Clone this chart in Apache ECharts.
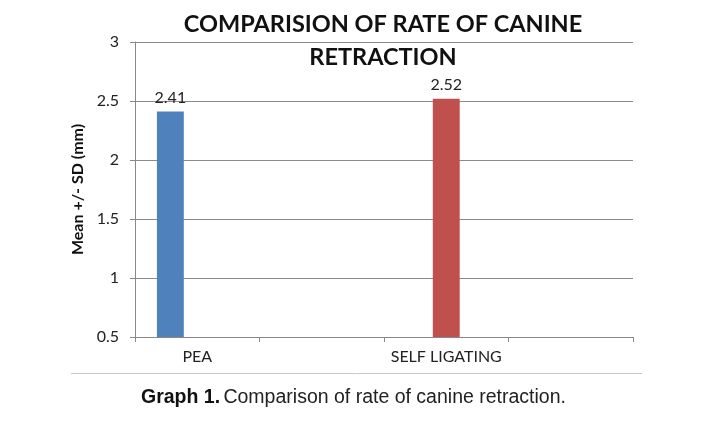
<!DOCTYPE html>
<html>
<head>
<meta charset="utf-8">
<script src="https://cdn.jsdelivr.net/npm/echarts@6/dist/echarts.min.js"></script>
<style>html,body{margin:0;padding:0;background:#fff}#c{width:727px;height:421px}</style>
</head>
<body>
<div id="c"></div>
<script>
var categories = ['PEA', '', 'SELF LIGATING', ''];
var peaValues = [2.41, '-', '-', '-'];
var selfLigatingValues = ['-', '-', 2.52, '-'];
var emptySeries = ['-', '-', '-', '-'];
var yTicks = { min: 0.5, max: 3, interval: 0.5 };

var chart = echarts.init(document.getElementById('c'), null, { renderer: 'canvas' });
var labelStyle = { show: true, position: 'top', distance: 6, color: '#222', fontFamily: 'Lato', fontSize: 16 };
chart.setOption({
  animation: false,
  title: {
    text: 'COMPARISION OF RATE OF CANINE\nRETRACTION',
    left: 378, top: 3, textAlign: 'center',
    textStyle: { fontFamily: 'Lato', fontWeight: 'bold', fontSize: 23.5, lineHeight: 33, color: '#111' }
  },
  grid: { left: 135, right: 94, top: 42, bottom: 84 },
  xAxis: {
    type: 'category', data: categories,
    axisLine: { lineStyle: { color: '#888', width: 1 } },
    axisTick: { show: true, length: 5, lineStyle: { color: '#888' } },
    axisLabel: { color: '#222', fontFamily: 'Lato', fontSize: 16, margin: 12, interval: 0 }
  },
  yAxis: {
    type: 'value', min: yTicks.min, max: yTicks.max, interval: yTicks.interval,
    name: 'Mean +/- SD (mm)', nameLocation: 'middle', nameGap: 38,
    nameTextStyle: { fontFamily: 'Lato', fontWeight: 'bold', fontSize: 16, color: '#111' },
    axisLine: { show: true, lineStyle: { color: '#888' } },
    axisTick: { show: true, length: 5, lineStyle: { color: '#888' } },
    axisLabel: { color: '#222', fontFamily: 'Lato', fontSize: 16, margin: 16 },
    splitLine: { lineStyle: { color: '#8a8a8a', width: 1 } }
  },
  series: [
    { type: 'bar', data: peaValues, itemStyle: { color: '#4F81BD' }, barGap: '0%', barCategoryGap: '35.2%', label: labelStyle },
    { type: 'bar', data: selfLigatingValues, itemStyle: { color: '#C0504D' }, barGap: '0%', barCategoryGap: '35.2%', label: labelStyle },
    { type: 'bar', data: emptySeries, itemStyle: { color: '#9BBB59' }, barGap: '0%', barCategoryGap: '35.2%' }
  ],
  graphic: [
    { type: 'line', shape: { x1: 71, y1: 373.5, x2: 642, y2: 373.5 }, style: { stroke: '#c8c8c8', lineWidth: 1 } },
    { type: 'text', left: 141, top: 388, style: {
        rich: { b: { fontFamily: 'Liberation Sans', fontWeight: 'bold', fontSize: 19.5, fill: '#111' },
                n: { fontFamily: 'Liberation Sans', fontSize: 19.5, fill: '#222' } },
        text: '{b|Graph 1.} {n|Comparison of rate of canine retraction.}' } }
  ]
});
</script>
</body>
</html>
